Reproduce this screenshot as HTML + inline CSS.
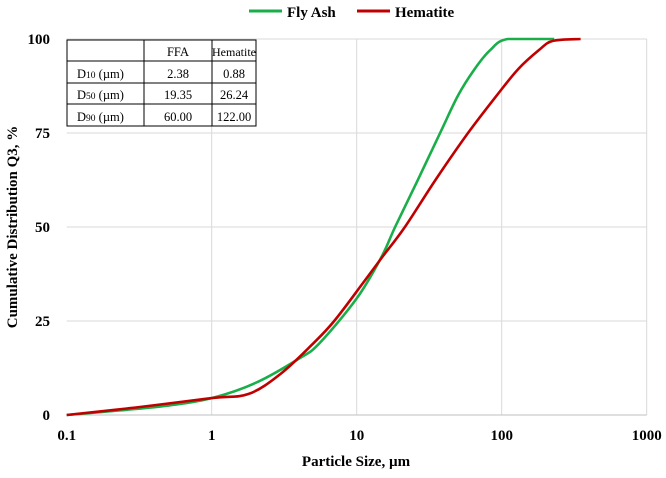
<!DOCTYPE html>
<html><head><meta charset="utf-8">
<style>
body{margin:0;background:#fff;font-family:"Liberation Serif",serif;}
svg text{font-family:"Liberation Serif",serif;}
</style></head>
<body>
<svg id="chart" width="666" height="473" viewBox="0 0 666 473" xmlns="http://www.w3.org/2000/svg">
<g id="grid"></g>
<g id="axes"></g>
<g id="series"></g>
<g>
 <line x1="249" y1="11" x2="282" y2="11" stroke="#1aae4a" stroke-width="3"/>
 <text x="287" y="17" font-size="15" font-weight="bold">Fly Ash</text>
 <line x1="357" y1="11" x2="390" y2="11" stroke="#c00000" stroke-width="3"/>
 <text x="395" y="17" font-size="15" font-weight="bold">Hematite</text>
</g>
<text x="356" y="466" font-size="15" font-weight="bold" text-anchor="middle">Particle Size, µm</text>
<text transform="translate(17,227) rotate(-90)" font-size="15" font-weight="bold" text-anchor="middle">Cumulative Distribution Q3, %</text>
<g font-size="12.5">
 <rect x="67" y="40" width="189" height="86" fill="#fff" stroke="#000" stroke-width="1"/>
 <line x1="67" y1="61" x2="256" y2="61" stroke="#000"/>
 <line x1="67" y1="83" x2="256" y2="83" stroke="#000"/>
 <line x1="67" y1="104" x2="256" y2="104" stroke="#000"/>
 <line x1="144" y1="40" x2="144" y2="126" stroke="#000"/>
 <line x1="212" y1="40" x2="212" y2="126" stroke="#000"/>
 <text x="178" y="56" text-anchor="middle">FFA</text>
 <text x="234" y="56" text-anchor="middle" font-size="12">Hematite</text>
 <text x="77" y="78">D<tspan font-size="9.5">10</tspan> (µm)</text>
 <text x="178" y="78" text-anchor="middle">2.38</text>
 <text x="234" y="78" text-anchor="middle">0.88</text>
 <text x="77" y="99">D<tspan font-size="9.5">50</tspan> (µm)</text>
 <text x="178" y="99" text-anchor="middle">19.35</text>
 <text x="234" y="99" text-anchor="middle">26.24</text>
 <text x="77" y="121">D<tspan font-size="9.5">90</tspan> (µm)</text>
 <text x="178" y="121" text-anchor="middle">60.00</text>
 <text x="234" y="121" text-anchor="middle">122.00</text>
</g>
</svg>
<script>
const xTicks=[0.1,1,10,100,1000];
const xTickLabels=["0.1","1","10","100","1000"];
const yTicks=[0,25,50,75,100];
const flyAshX=[0.1,0.2,0.5,1,2,4,5.5,10,14.8,18.4,26,37.6,50,65,83,110,230];
const flyAshY=[0,1,2.5,4.5,8.5,15,19,31,42,50,62,75,85,92,97,100,100];
const hematiteX=[0.1,0.3,1,1.8,3,5,7,11,15,21.5,35.6,58.6,92.5,130,180,225,350];
const hematiteY=[0,2,4.5,5.6,11,19,25,35,42,50,63,75,85,92,97,99.5,100];
const NS="http://www.w3.org/2000/svg";
const x0=66.7,dec=145,yb=415,yt=39;
function sx(v){return x0+Math.log10(v/0.1)*dec;}
function sy(v){return yb-(v/100)*(yb-yt);}
function mk(t,a,p){const e=document.createElementNS(NS,t);for(const k in a)e.setAttribute(k,a[k]);p.appendChild(e);return e;}
const grid=document.getElementById('grid'),axes=document.getElementById('axes'),series=document.getElementById('series');
xTicks.forEach((t,i)=>{
 if(i>0){const l=mk('line',{x1:sx(t),x2:sx(t),y1:yt,y2:yb,stroke:'#d9d9d9','stroke-width':1},grid);
 
 }
 const tx=mk('text',{x:sx(t),y:yb+25,'font-size':15,'font-weight':'bold','text-anchor':'middle'},axes);
 tx.textContent=xTickLabels[i];
 
 
});
yTicks.forEach(t=>{
 const l=mk('line',{x1:x0,x2:sx(1000),y1:sy(t),y2:sy(t),stroke:t===0?'#bfbfbf':'#d9d9d9','stroke-width':1},grid);
 
 
 const tx=mk('text',{x:50,y:sy(t)+5,'font-size':15,'font-weight':'bold','text-anchor':'end'},axes);
 tx.textContent=String(t);
 
 
});
function line(xs,ys,c,name){
 const P=xs.map((v,i)=>[sx(v),sy(ys[i])]);
 let d='M'+P[0][0].toFixed(1)+','+P[0][1].toFixed(1);
 for(let i=0;i<P.length-1;i++){
  const p0=P[Math.max(0,i-1)],p1=P[i],p2=P[i+1],p3=P[Math.min(P.length-1,i+2)];
  const c1=[p1[0]+(p2[0]-p0[0])/6,p1[1]+(p2[1]-p0[1])/6];
  const c2=[p2[0]-(p3[0]-p1[0])/6,p2[1]-(p3[1]-p1[1])/6];
  c1[1]=Math.max(c1[1],yt);c2[1]=Math.max(c2[1],yt);
  d+=' C'+c1.map(n=>n.toFixed(1)).join(',')+' '+c2.map(n=>n.toFixed(1)).join(',')+' '+p2.map(n=>n.toFixed(1)).join(',');
 }
 const p=mk('path',{d:d,fill:'none',stroke:c,'stroke-width':2.6,'stroke-linejoin':'round'},series);
 
 
}
line(flyAshX,flyAshY,'#1aae4a','fly-ash-line');
line(hematiteX,hematiteY,'#c00000','hematite-line');
</script>
</body></html>
